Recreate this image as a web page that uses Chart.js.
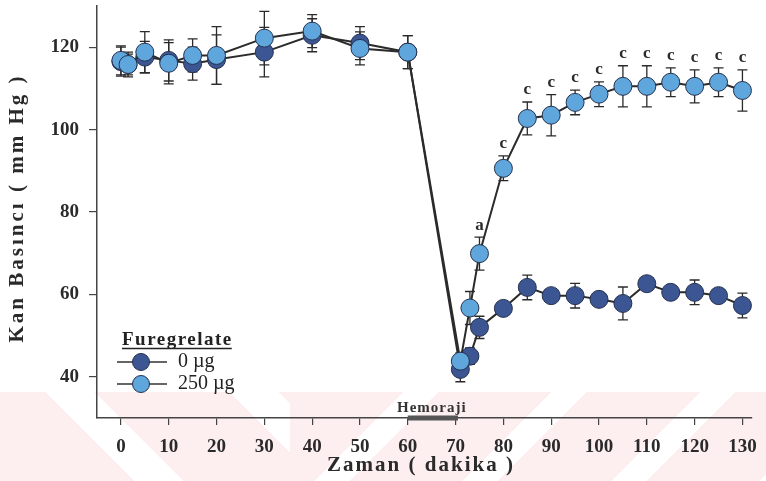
<!DOCTYPE html>
<html>
<head>
<meta charset="utf-8">
<script src="https://cdn.jsdelivr.net/npm/chart.js@4.4.1/dist/chart.umd.min.js"></script>
<style>
    body { margin: 0; background: #fff; }
    #wrap { position: relative; width: 766px; height: 481px; overflow: hidden; }
    .mark { position: absolute; top: 392px; height: 89px; }
    #markL { left: 0; width: 290px; background: repeating-linear-gradient(45deg, #fdeef0 0 95px, #fff 95px 130px); }
    #markR { left: 290px; width: 476px; background: repeating-linear-gradient(135deg, #fdeef0 0 80px, #fff 80px 105px); }
    canvas { position: absolute; left: 0; top: 0; }
</style>
</head>
<body>
<div id="wrap">
    <div class="mark" id="markL"></div>
    <div class="mark" id="markR"></div>
    <canvas id="chart" width="766" height="481"></canvas>
</div>
<script>
// Time points (dakika)
const times = [0, 1.5, 5, 10, 15, 20, 30, 40, 50, 60, 71, 73, 75, 80, 85, 90, 95, 100, 105, 110, 115, 120, 125, 130];

// Furegrelate 0 µg
const dose0 = [116.5, 115.8, 117.6, 116.8, 116, 117, 118.8, 122.9, 121, 118.8, 41.8, 45, 52, 56.6, 61.7, 59.7, 59.7, 58.8, 57.8, 62.6, 60.5, 60.5, 59.7, 57.3];
const dose0Err = [3.5, 3, 3.8, 5, 4, 6, 6, 4, 4, 4, 3, 2, 2.7, 1.2, 3, 1.5, 3, 1.5, 4, 1.5, 1.5, 3, 1.5, 3];

// Furegrelate 250 µg
const dose250 = [116.8, 115.8, 118.8, 116.1, 118, 118, 122.2, 123.9, 119.7, 118.8, 43.8, 56.7, 69.9, 90.6, 102.7, 103.5, 106.6, 108.6, 110.5, 110.5, 111.5, 110.5, 111.5, 109.5];
const dose250Err = [3.5, 2.5, 5, 5, 4, 7, 6.5, 4, 4, 4, 2, 4, 4, 3, 4, 5, 3, 3, 5, 5, 3.5, 4, 3.5, 5];
const dose250Sig = ["", "", "", "", "", "", "", "", "", "", "", "", "a", "c", "c", "c", "c", "c", "c", "c", "c", "c", "c", "c"];

const xTicks = [0, 10, 20, 30, 40, 50, 60, 70, 80, 90, 100, 110, 120, 130];
const yTicks = [40, 60, 80, 100, 120];

const hemorajiStart = 60;
const hemorajiEnd = 70.5;

const DARK = "#3c5694";
const LIGHT = "#5ea6dc";
const EDGE = "#25314f";
const SERIF = "'Liberation Serif', 'DejaVu Serif', serif";

function toPoints(xs, ys) {
    return xs.map((x, i) => ({ x: x, y: ys[i] }));
}

// error bars, significance letters, hemorrhage bar, legend, axis titles
const extras = {
    id: "extras",
    beforeDatasetsDraw(chart) {
        const ctx = chart.ctx;
        const xs = chart.scales.x, ys = chart.scales.y;
        ctx.save();
        ctx.strokeStyle = "#2a2a2a";
        ctx.lineWidth = 1.3;
        chart.data.datasets.forEach((ds) => {
            ds.data.forEach((p, i) => {
                const e = ds.errorBars[i];
                const px = xs.getPixelForValue(p.x);
                const top = ys.getPixelForValue(p.y + e);
                const bot = ys.getPixelForValue(p.y - e);
                ctx.beginPath();
                ctx.moveTo(px, top); ctx.lineTo(px, bot);
                ctx.moveTo(px - 5, top); ctx.lineTo(px + 5, top);
                ctx.moveTo(px - 5, bot); ctx.lineTo(px + 5, bot);
                ctx.stroke();
            });
        });
        ctx.restore();
    },
    afterDraw(chart) {
        const ctx = chart.ctx;
        const xs = chart.scales.x, ys = chart.scales.y;
        const area = chart.chartArea;
        ctx.save();

        // significance letters
        ctx.fillStyle = "#2a2a2a";
        ctx.font = "bold 17px " + SERIF;
        ctx.textAlign = "center";
        ctx.textBaseline = "middle";
        dose250Sig.forEach((s, i) => {
            if (!s) return;
            const px = xs.getPixelForValue(times[i]);
            const py = ys.getPixelForValue(dose250[i] + dose250Err[i]) - 12;
            ctx.fillText(s, px, py);
        });

        // hemorrhage period
        const hx0 = xs.getPixelForValue(hemorajiStart);
        const hx1 = xs.getPixelForValue(hemorajiEnd);
        ctx.fillStyle = "#555";
        ctx.fillRect(hx0, area.bottom - 2.5, hx1 - hx0, 5);
        ctx.fillStyle = "#333";
        ctx.font = "bold 15px " + SERIF;
        ctx.letterSpacing = "1px";
        ctx.fillText("Hemoraji", (hx0 + hx1) / 2 - 1, area.bottom - 10);

        // legend
        ctx.letterSpacing = "1.5px";
        ctx.textAlign = "left";
        ctx.textBaseline = "alphabetic";
        ctx.fillStyle = "#222";
        ctx.font = "bold 19px " + SERIF;
        const w = ctx.measureText("Furegrelate").width;
        ctx.fillText("Furegrelate", 122, 345);
        ctx.strokeStyle = "#222";
        ctx.lineWidth = 1.5;
        ctx.beginPath();
        ctx.moveTo(122, 348.5); ctx.lineTo(122 + w - 1, 348.5);
        ctx.stroke();

        ctx.letterSpacing = "0px";
        [[DARK, "0 µg", 362], [LIGHT, "250 µg", 384]].forEach(([c, label, y]) => {
            ctx.strokeStyle = "#333";
            ctx.lineWidth = 1.5;
            ctx.beginPath();
            ctx.moveTo(117, y); ctx.lineTo(167, y);
            ctx.stroke();
            ctx.beginPath();
            ctx.arc(141, y, 8.5, 0, Math.PI * 2);
            ctx.fillStyle = c;
            ctx.fill();
            ctx.lineWidth = 1;
            ctx.strokeStyle = EDGE;
            ctx.stroke();
            ctx.fillStyle = "#222";
            ctx.font = "20px " + SERIF;
            ctx.textBaseline = "middle";
            ctx.fillText(label, 178, y);
        });

        // axis titles
        ctx.fillStyle = "#2a2a2a";
        ctx.font = "bold 21px " + SERIF;
        ctx.textAlign = "center";
        ctx.textBaseline = "middle";
        ctx.letterSpacing = "2px";
        ctx.fillText("Zaman ( dakika )", 421, 466);
        ctx.translate(18, 208);
        ctx.rotate(-Math.PI / 2);
        ctx.letterSpacing = "3px";
        ctx.fillText("Kan Basıncı ( mm Hg )", 0, 0);
        ctx.restore();
    }
};

new Chart(document.getElementById("chart"), {
    type: "line",
    data: {
        datasets: [
            {
                label: "250 µg",
                data: toPoints(times, dose250),
                errorBars: dose250Err,
                order: 0,
                borderColor: "#2b2b2b",
                borderWidth: 2,
                backgroundColor: LIGHT,
                pointBackgroundColor: LIGHT,
                pointBorderColor: EDGE,
                pointBorderWidth: 1,
                pointRadius: 9,
                tension: 0
            },
            {
                label: "0 µg",
                data: toPoints(times, dose0),
                errorBars: dose0Err,
                order: 1,
                borderColor: "#2b2b2b",
                borderWidth: 2,
                backgroundColor: DARK,
                pointBackgroundColor: DARK,
                pointBorderColor: EDGE,
                pointBorderWidth: 1,
                pointRadius: 9,
                tension: 0
            }
        ]
    },
    options: {
        responsive: false,
        animation: false,
        devicePixelRatio: 1,
        layout: { autoPadding: false, padding: { top: 6, right: 14, left: 0, bottom: 0 } },
        plugins: { legend: { display: false }, tooltip: { enabled: false } },
        scales: {
            x: {
                type: "linear",
                min: -5,
                max: 132,
                afterBuildTicks: (scale) => { scale.ticks = xTicks.map(v => ({ value: v })); },
                afterFit: (scale) => { scale.height = 63; scale.paddingLeft = 0; scale.paddingRight = 0; },
                ticks: {
                    color: "#2a2a2a",
                    font: { family: SERIF, size: 19, weight: "bold" },
                    padding: 11
                },
                grid: { display: true, drawOnChartArea: false, drawTicks: true, tickLength: 7, color: "#444", lineWidth: 1.2 },
                border: { display: true, color: "#444", width: 1.5 }
            },
            y: {
                min: 30,
                max: 130,
                afterBuildTicks: (scale) => { scale.ticks = yTicks.map(v => ({ value: v })); },
                afterFit: (scale) => { scale.width = 97; scale.paddingTop = 0; scale.paddingBottom = 0; },
                ticks: {
                    color: "#2a2a2a",
                    font: { family: SERIF, size: 19, weight: "bold" },
                    padding: 10
                },
                grid: { display: true, drawOnChartArea: false, drawTicks: true, tickLength: 8, color: "#444", lineWidth: 1.2 },
                border: { display: true, color: "#444", width: 1.5 }
            }
        }
    },
    plugins: [extras]
});
</script>
</body>
</html>
